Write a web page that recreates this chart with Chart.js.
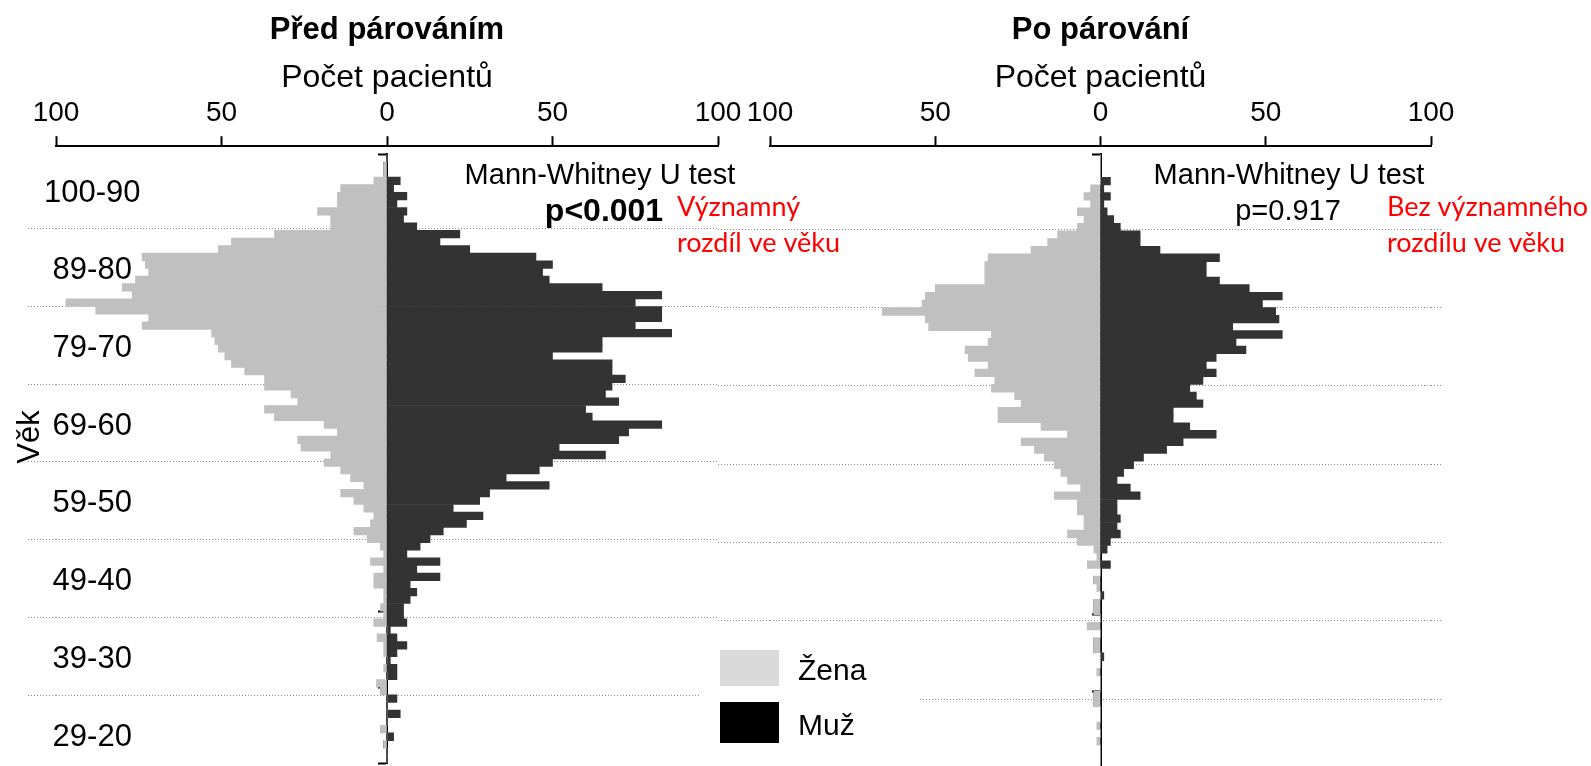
<!DOCTYPE html>
<html>
<head>
<meta charset="utf-8">
<script src="https://cdn.jsdelivr.net/npm/chart.js@4.4.0/dist/chart.umd.min.js"></script>
<style>
  html, body { margin: 0; padding: 0; background: #fff; overflow: hidden; }
  #wrap { position: relative; width: 1591px; height: 766px; }
  #pred { position: absolute; left: 0; top: 0; }
  #po { position: absolute; left: 700px; top: 0; }
</style>
</head>
<body>
<div id="wrap">
  <canvas id="pred" width="900" height="770"></canvas>
  <canvas id="po" width="891" height="770"></canvas>
</div>
<script>
// one bar per year of age, top to bottom
const ages = [
  99, 98, 97, 96, 95, 94, 93, 92, 91, 90,
  89, 88, 87, 86, 85, 84, 83, 82, 81, 80,
  79, 78, 77, 76, 75, 74, 73, 72, 71, 70,
  69, 68, 67, 66, 65, 64, 63, 62, 61, 60,
  59, 58, 57, 56, 55, 54, 53, 52, 51, 50,
  49, 48, 47, 46, 45, 44, 43, 42, 41, 40,
  39, 38, 37, 36, 35, 34, 33, 32, 31, 30,
  29, 28, 27, 26, 25, 24, 23, 22, 21, 20
];
const ageGroups = ['100-90', '89-80', '79-70', '69-60', '59-50', '49-40', '39-30', '29-20'];

// pocet pacientu - pred parovanim
const zenyPred = [
  0, 1, 1, 4, 14, 15, 15, 21, 17, 17,
  34, 47, 51, 74, 73, 72, 76, 80, 77, 97,
  88, 72, 74, 53, 52, 51, 49, 47, 43, 37,
  37, 29, 27, 37, 34, 19, 15, 27, 26, 17,
  19, 14, 11, 7, 14, 10, 7, 4, 5, 10,
  6, 2, 1, 5, 1, 4, 4, 1, 1, 2,
  1, 4, 0, 3, 1, 1, 0, 1, 0, 3,
  2, 0, 0, 0, 0, 2, 0, 1, 0, 0
];
const muziPred = [
  0, 0, 0, 4, 2, 6, 3, 6, 5, 9,
  22, 16, 25, 45, 50, 47, 49, 65, 83, 75,
  83, 83, 75, 86, 65, 65, 50, 68, 68, 72,
  68, 66, 70, 60, 62, 83, 73, 70, 52, 66,
  50, 46, 36, 49, 31, 28, 20, 29, 24, 17,
  13, 10, 6, 16, 9, 16, 7, 9, 7, 5,
  5, 6, 1, 3, 6, 3, 1, 3, 3, 0,
  0, 3, 0, 4, 0, 0, 2, 0, 0, 0
];

// pocet pacientu - po parovani
const zenyPo = [
  0, 0, 0, 0, 3, 5, 3, 7, 5, 7,
  13, 16, 21, 34, 35, 35, 35, 50, 53, 54,
  66, 53, 52, 33, 34, 41, 40, 34, 38, 32,
  33, 26, 24, 31, 31, 18, 10, 24, 20, 17,
  14, 12, 10, 6, 14, 7, 7, 5, 5, 10,
  7, 2, 1, 4, 0, 2, 1, 0, 2, 2,
  0, 4, 0, 2, 2, 0, 0, 1, 0, 0,
  2, 2, 0, 0, 1, 0, 1, 0, 0, 0
];
const muziPo = [
  0, 0, 0, 3, 1, 3, 1, 2, 4, 6,
  12, 12, 18, 36, 32, 32, 36, 45, 55, 49,
  53, 54, 40, 55, 41, 44, 35, 32, 35, 31,
  27, 29, 31, 22, 22, 27, 35, 25, 20, 13,
  10, 7, 5, 9, 12, 5, 5, 6, 5, 6,
  3, 2, 0, 3, 0, 0, 0, 1, 0, 0,
  0, 0, 0, 0, 0, 1, 0, 0, 0, 0,
  0, 0, 0, 0, 0, 0, 0, 0, 0, 0
];

// helper axis: dotted lines between the groups, group labels in between
const lineTicks = [10, 20, 30, 40, 50, 60, 70];
const labelTicks = [5.4, 15.4, 25.4, 35.4, 45.4, 55.4, 65.4, 75.4];

Chart.defaults.font.family = "'Liberation Sans', Arial, sans-serif";
Chart.defaults.color = '#000';

const SANS = "'Liberation Sans', Arial, sans-serif";
const RED = "Lato, 'Open Sans', sans-serif";

function notes(texts, boxes) {
  return {
    id: 'notes',
    afterDraw(chart) {
      const ctx = chart.ctx;
      ctx.save();
      boxes.forEach(b => {
        ctx.fillStyle = b.color;
        ctx.fillRect(b.x, b.y, b.w, b.h);
      });
      texts.forEach(t => {
        ctx.save();
        ctx.font = t.font;
        ctx.fillStyle = t.color || '#000';
        ctx.textAlign = t.align || 'center';
        ctx.textBaseline = t.base || 'middle';
        ctx.translate(t.x, t.y);
        if (t.rot) ctx.rotate(t.rot * Math.PI / 180);
        ctx.fillText(t.text, 0, 0);
        ctx.restore();
      });
      ctx.restore();
    }
  };
}

function groupTicks(s) {
  const t = lineTicks.map(v => ({ value: v }))
    .concat(labelTicks.map((v, i) => ({ value: v, grp: ageGroups[i] })));
  s.ticks = t.sort((a, b) => a.value - b.value);
}

function dotted(c) {
  return c.tick && !c.tick.grp ? '#8c8c8c' : 'rgba(0,0,0,0)';
}

function pyramid(id, title, zeny, muzi, side, extra) {
  return new Chart(document.getElementById(id), {
    type: 'bar',
    data: {
      labels: ages,
      datasets: [
        { label: 'Žena', data: zeny.map(v => -v), backgroundColor: '#c0c0c0' },
        { label: 'Muž', data: muzi, backgroundColor: '#333333' }
      ]
    },
    options: {
      indexAxis: 'y',
      responsive: false,
      animation: false,
      layout: { padding: { left: side.padLeft, right: side.padRight, top: 0, bottom: 2 } },
      datasets: { bar: { barPercentage: 1, categoryPercentage: 1, borderWidth: 0 } },
      plugins: {
        legend: { display: false },
        tooltip: { enabled: false },
        title: {
          display: true, text: title, fullSize: false, color: '#000',
          font: { size: 31, weight: 'bold' },
          padding: { top: 12, bottom: 10 }
        }
      },
      scales: {
        x: {
          type: 'linear', position: 'top', min: -100, max: 100, stacked: true, weight: 1,
          ticks: { stepSize: 50, padding: 6, font: { size: 28 }, color: '#000', callback: v => Math.abs(v) },
          grid: { drawOnChartArea: false, tickLength: 10, tickWidth: 2, tickColor: '#000' },
          border: { color: '#000', width: 2 },
          title: { display: true, text: 'Počet pacientů', font: { size: 32 }, color: '#000', padding: { top: 0, bottom: -7 } }
        },
        xs: {
          type: 'linear', position: 'top', weight: 0,
          ticks: { display: false },
          grid: { display: false, drawTicks: true, tickLength: 8 },
          border: { display: false }
        },
        y: { type: 'category', stacked: true, display: false, offset: true },
        ya: {
          type: 'linear', position: { x: 0 }, min: 20, max: 100, offset: false,
          ticks: { display: false, stepSize: 10 },
          grid: { offset: false, drawOnChartArea: false, tickLength: 8, tickWidth: 2, tickColor: '#000' },
          border: { color: '#000', width: 2 }
        },
        yg: {
          type: 'linear', position: 'left', min: 0.4, max: 78.8, reverse: true, offset: false,
          afterBuildTicks: groupTicks,
          afterFit: s => { s.width = side.gridTick; },
          ticks: {
            display: side.showAges, mirror: true, crossAlign: 'center', padding: -12,
            font: { size: 31 }, color: '#000',
            callback: (v, i, t) => t[i].grp || ''
          },
          grid: {
            offset: false, color: dotted, tickColor: dotted, lineWidth: 1, tickWidth: 1,
            tickLength: side.gridTick, tickBorderDash: [1, 2]
          },
          border: { display: false, dash: [1, 2] }
        },
        yg2: {
          type: 'linear', position: 'right', min: 0.4, max: 78.8, reverse: true, offset: false,
          display: side.rightTick > 0,
          afterBuildTicks: groupTicks,
          afterFit: s => { s.width = side.rightTick; },
          ticks: { display: false },
          grid: {
            offset: false, drawOnChartArea: false, tickColor: dotted, tickWidth: 1,
            tickLength: side.rightTick, tickBorderDash: [1, 2]
          },
          border: { display: false }
        }
      }
    },
    plugins: [extra]
  });
}

pyramid('pred', 'Před párováním', zenyPred, muziPred,
  { padLeft: 28, padRight: 182, gridTick: 28, rightTick: 0, showAges: true },
  notes([
    { text: 'Věk', x: 30, y: 437, font: '31px ' + SANS, rot: -90 },
    { text: 'Mann-Whitney U test', x: 600, y: 176, font: '29px ' + SANS },
    { text: 'p<0.001', x: 604, y: 212, font: 'bold 32px ' + SANS },
    { text: 'Významný', x: 677, y: 216, font: '27px ' + RED, color: '#ff0000', align: 'left', base: 'alphabetic' },
    { text: 'rozdíl ve věku', x: 677, y: 252, font: '27px ' + RED, color: '#ff0000', align: 'left', base: 'alphabetic' }
  ], [])
);

pyramid('po', 'Po párování', zenyPo, muziPo,
  { padLeft: 18, padRight: 150, gridTick: 52, rightTick: 10, showAges: false },
  notes([
    { text: 'Mann-Whitney U test', x: 589, y: 176, font: '29px ' + SANS },
    { text: 'p=0.917', x: 588, y: 212, font: '29px ' + SANS },
    { text: 'Bez významného', x: 687, y: 216, font: '27px ' + RED, color: '#ff0000', align: 'left', base: 'alphabetic' },
    { text: 'rozdílu ve věku', x: 687, y: 252, font: '27px ' + RED, color: '#ff0000', align: 'left', base: 'alphabetic' },
    { text: 'Žena', x: 98, y: 680, font: '30px ' + SANS, align: 'left', base: 'alphabetic' },
    { text: 'Muž', x: 98, y: 735, font: '30px ' + SANS, align: 'left', base: 'alphabetic' }
  ], [
    { x: 0, y: 625, w: 218, h: 145, color: '#ffffff' },
    { x: 20, y: 650, w: 59, h: 36, color: '#d9d9d9' },
    { x: 20, y: 702, w: 59, h: 41, color: '#000000' }
  ])
);
</script>
</body>
</html>
